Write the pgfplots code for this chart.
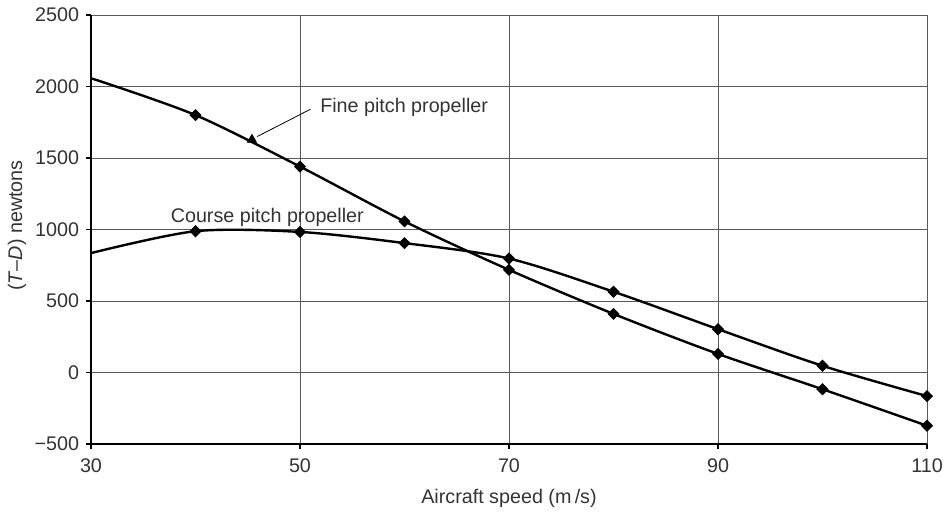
\documentclass[border=0pt]{standalone}
\usepackage{pgfplots}
\pgfplotsset{compat=1.18}
\usepackage{fontspec}
\setmainfont{Liberation Sans}
\definecolor{txt}{HTML}{333333}
\begin{document}
\fontsize{9.9}{11.5}\selectfont
\begin{tikzpicture}
\begin{axis}[
  scale only axis, width=418bp, height=214.5bp,
  xmin=30, xmax=110, ymin=-500, ymax=2500,
  axis x line*=bottom, axis y line*=left,
  axis line style={black, line width=1bp},
  xtick={30,50,70,90,110}, xticklabels={30,50,70,90,110},
  ytick={-500,0,500,1000,1500,2000,2500},
  yticklabels={−500,0,500,1000,1500,2000,2500},
  grid=major, grid style={black!65, line width=0.5bp},
  tick align=outside, major tick length=2.5bp,
  tick style={black, line width=0.6bp},
  ticklabel style={text=txt, font=\fontsize{9.9}{11.5}\selectfont},
  xticklabel style={yshift=-1.5bp},
  xlabel={Aircraft speed (m\,/s)},
  ylabel={(\textit{T}--\textit{D}) newtons},
  label style={text=txt, font=\fontsize{9.9}{11.5}\selectfont},
  xlabel style={at={(axis description cs:0.5,0)}, anchor=base, yshift=-29.5bp},
  ylabel style={at={(axis description cs:-0.0885,0.509)}, anchor=center},
  clip=false,
]
% Fine pitch propeller
\addplot[black, line width=1.2bp, smooth, tension=0.5] coordinates {
 (30,2058) (40,1800) (50,1440) (60,1057) (70,718) (80,410) (90,130) (100,-117) (110,-372)};
\addplot[only marks, mark=square*, mark size=1.95bp, mark options={rotate=45, fill=black, draw=black}] coordinates {
 (40,1800) (50,1440) (60,1057) (70,718) (80,410) (90,130) (100,-117) (110,-372)};
\addplot[only marks, mark=triangle*, mark size=2.6bp, mark options={fill=black, draw=black}] coordinates {(45.4,1628)};
% Course pitch propeller
\addplot[black, line width=1.2bp, smooth, tension=0.5] coordinates {
 (30,835) (40,988) (50,983) (60,905) (70,797) (80,565) (90,303) (100,47) (110,-165)};
\addplot[only marks, mark=square*, mark size=1.95bp, mark options={rotate=45, fill=black, draw=black}] coordinates {
 (40,988) (50,983) (60,905) (70,797) (80,565) (90,303) (100,47) (110,-165)};
\draw[black, line width=0.4bp] (axis cs:51.0,1841) -- (axis cs:45.9,1650);
\node[anchor=base west, inner sep=0pt, text=txt] at (axis cs:51.9,1815) {Fine pitch propeller};
\node[anchor=base west, inner sep=0pt, text=txt] at (axis cs:37.6,1048) {Course pitch propeller};
\end{axis}
\pgfresetboundingbox
\path (current axis.south west) ++(-45.5bp,-33.5bp) coordinate (bl);
\path (current axis.north east) ++(8.5bp,7.5bp) coordinate (tr);
\useasboundingbox (bl) rectangle (tr);
\end{tikzpicture}
\end{document}
